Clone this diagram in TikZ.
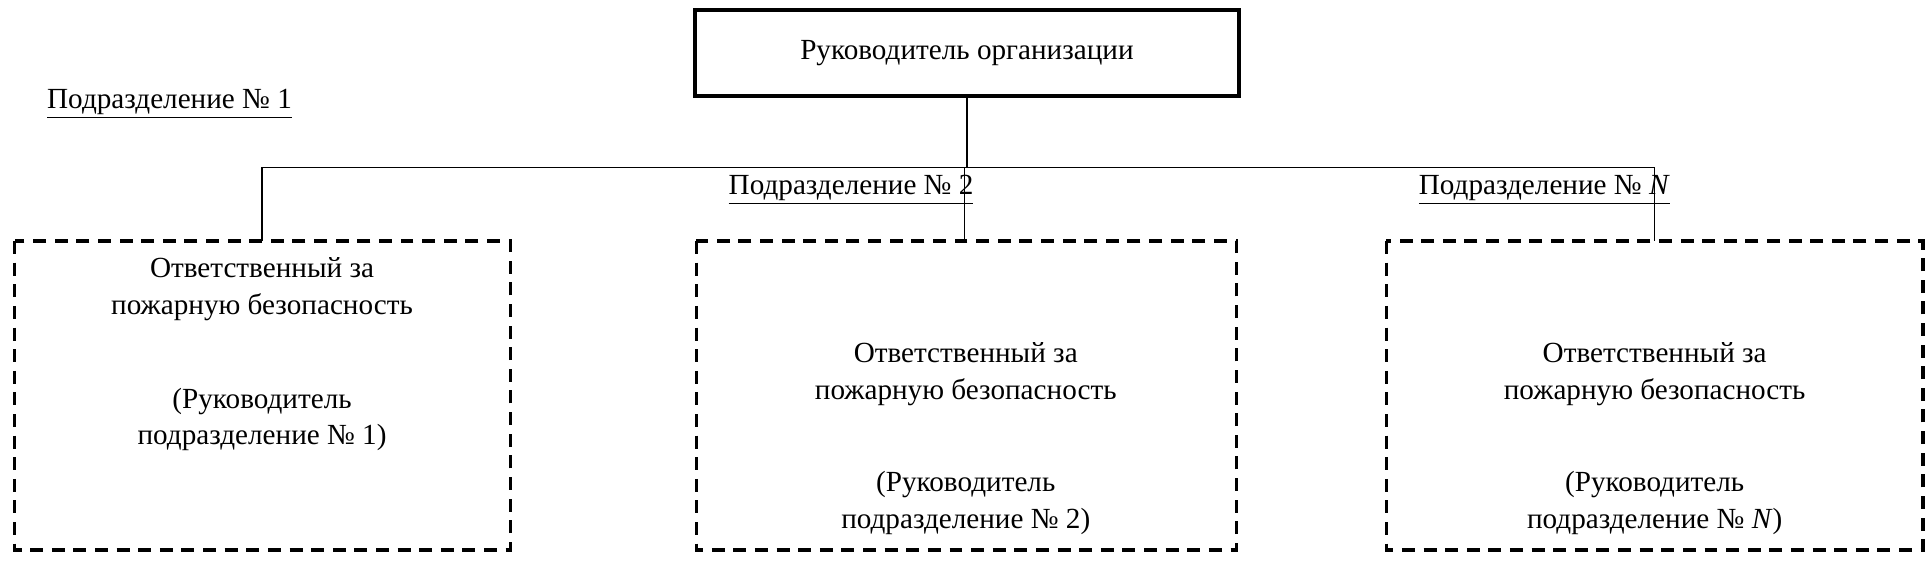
\documentclass[tikz,border=0pt]{standalone}
\usepackage{fontspec}
\setmainfont{Liberation Serif}
\begin{document}
\begin{tikzpicture}[x=0.02cm,y=-0.02cm,
  txt/.style={font=\fontsize{13.5}{17}\selectfont, align=center, inner sep=0pt},
  dbox/.style={draw, line width=1.6pt, dash pattern=on 6pt off 4pt},
  lbl/.style={font=\fontsize{13.5}{17}\selectfont, inner sep=0pt, anchor=base west}]
\useasboundingbox (0,0) rectangle (1568,462);
\node[draw, line width=2pt, minimum width=442*0.02cm, minimum height=70*0.02cm, txt] (top) at (786,43) {Руководитель организации};
\node[lbl] (l1) at (38,88) {\underline{Подразделение № 1}};
\node[lbl] (l2) at (592,158) {\underline{Подразделение № 2}};
\node[lbl] (l3) at (1153,158) {\underline{Подразделение № \textit{N}}};
\draw[dbox] (12,196) rectangle (415,447);
\draw[dbox] (566,196) rectangle (1005,447);
\draw[dbox] (1127,196) rectangle (1563,447);
\coordinate (b1) at (213,196);
\coordinate (b2) at (784,196);
\coordinate (b3) at (1345,196);
\coordinate (h) at (786,136);
\draw[line width=0.6pt] (top.south) -- (h);
\draw[line width=0.6pt] (b1) -- (213,136) -- (1345,136) -- (b3);
\draw[line width=0.6pt] (b2) -- (784,136);
\node[txt] (t1) at (213,235) {Ответственный за\\пожарную безопасность};
\node[txt] (t1b) at (213,341) {(Руководитель\\подразделение № 1)};
\node[txt] (t2) at (785,304) {Ответственный за\\пожарную безопасность};
\node[txt] (t2b) at (785,409) {(Руководитель\\подразделение № 2)};
\node[txt] (t3) at (1345,304) {Ответственный за\\пожарную безопасность};
\node[txt] (t3b) at (1345,409) {(Руководитель\\подразделение № \textit{N})};
\end{tikzpicture}
\end{document}
